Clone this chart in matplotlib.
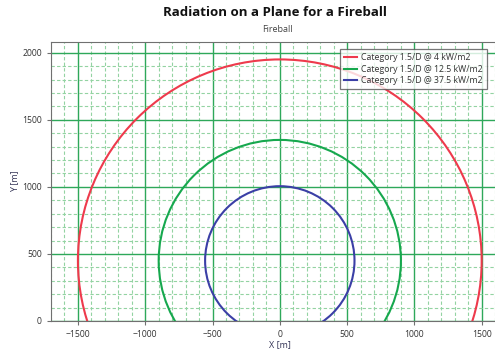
import matplotlib
matplotlib.use("Agg")
import matplotlib.pyplot as plt
from matplotlib.patches import Circle
from matplotlib.ticker import MultipleLocator

plt.rcParams['font.family'] = ['Open Sans', 'DejaVu Sans']

labels = ["Category 1.5/D @ 4 kW/m2", "Category 1.5/D @ 12.5 kW/m2", "Category 1.5/D @ 37.5 kW/m2"]
center_x = [0, 0, 0]
center_y = [450, 450, 450]
radius = [1500, 900, 555]
colors = ["#ee3a4c", "#16a84e", "#3b3fa6"]

fig = plt.figure(figsize=(4.95, 3.58), dpi=100)
ax = fig.add_axes([51/495, 1-321/358, (508.6-51)/495, (321-42)/358])

ax.set_xlim(-1700, 1700)
ax.set_ylim(0, 2080)
ax.xaxis.set_major_locator(MultipleLocator(500))
ax.yaxis.set_major_locator(MultipleLocator(500))
ax.xaxis.set_minor_locator(MultipleLocator(100))
ax.yaxis.set_minor_locator(MultipleLocator(100))
ax.grid(which='major', color='#2ea85a', linewidth=1.0, linestyle='-')
ax.grid(which='minor', color='#93d3a2', linewidth=0.8, linestyle=(0, (3, 2)))
ax.set_axisbelow(True)

handles = []
for cx, cy, r, c, lab in zip(center_x, center_y, radius, colors, labels):
    p = Circle((cx, cy), r, fill=False, edgecolor=c, linewidth=1.5, zorder=3)
    ax.add_patch(p)
    h, = ax.plot([], [], color=c, linewidth=1.5, label=lab)
    handles.append(h)

for s in ['right']:
    ax.spines[s].set_visible(False)
for s in ['left', 'bottom', 'top']:
    ax.spines[s].set_color('#707070')

ax.tick_params(which='major', labelsize=6.2, colors='#333333', length=3, width=0.8)
ax.tick_params(which='minor', length=0)
ax.tick_params(axis='both', which='major', color='#707070')

ax.set_xlabel("X [m]", fontsize=6.5, color='#333355', labelpad=1)
ax.set_ylabel("Y [m]", fontsize=6.5, color='#333355', labelpad=2)

leg = ax.legend(handles=handles, loc='upper right', bbox_to_anchor=((487-51)/(508.6-51), 1-(49-42)/279),
                fontsize=6.3, frameon=True, fancybox=False, handlelength=1.5,
                handletextpad=0.4, borderpad=0.5, labelspacing=0.25, borderaxespad=0)
leg.get_frame().set_edgecolor('#555555')
leg.get_frame().set_linewidth(0.9)
for t in leg.get_texts():
    t.set_color('#333333')

fig.text(275/495, 1-12/358, "Radiation on a Plane for a Fireball", ha='center', va='center',
         fontsize=9.5, fontweight='bold', color='#111111')
fig.text(277/495, 1-29/358, "Fireball", ha='center', va='center', fontsize=6.5, color='#444444')

fig.savefig("out.png", dpi=100)
